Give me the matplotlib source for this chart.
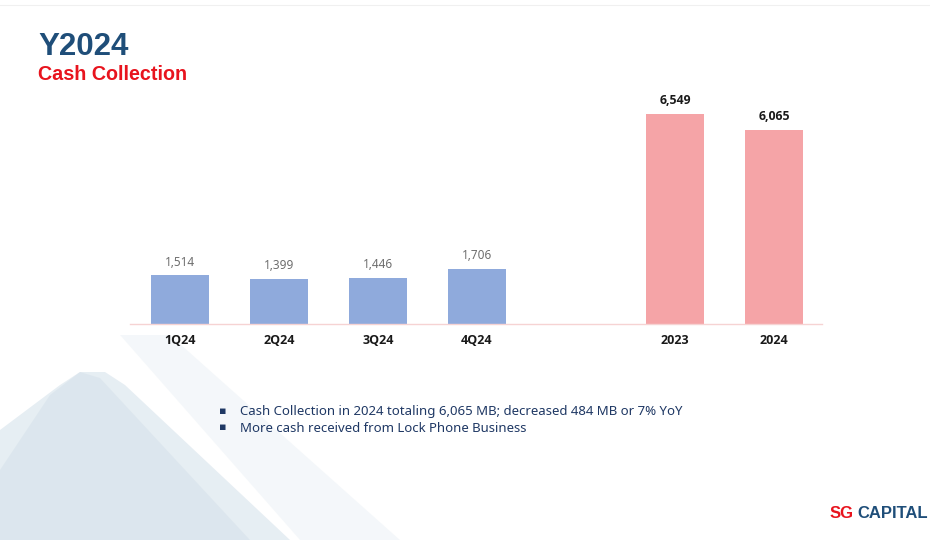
import matplotlib.pyplot as plt
from matplotlib.patches import Polygon

# data
categories = ["1Q24", "2Q24", "3Q24", "4Q24", "2023", "2024"]
positions = [0, 1, 2, 3, 5, 6]
values = [1514, 1399, 1446, 1706, 6549, 6065]
is_annual = [False, False, False, False, True, True]
bullets = [
    "Cash Collection in 2024 totaling 6,065 MB; decreased 484 MB or 7% YoY",
    "More cash received from Lock Phone Business",
]

BLUE = "#8FAADC"
PINK = "#F5A4A7"
NAVY = "#1F3864"
TITLE_BLUE = "#1F4E79"
RED = "#E8141E"
BOLD_FONT = ["Open Sans", "DejaVu Sans"]

plt.rcParams['font.family'] = ['Noto Sans', 'DejaVu Sans']

fig = plt.figure(figsize=(9.3, 5.4), dpi=100)

# decorative background shapes (bottom left)
bg = fig.add_axes([0, 0, 1, 1], zorder=0)
bg.set_xlim(0, 930)
bg.set_ylim(540, 0)
bg.axis("off")
bg.add_patch(Polygon([(0, 430), (0, 540), (290, 540), (125, 385), (105, 372),
                      (80, 372), (60, 385)], closed=True,
                     facecolor="#D3E0EA", edgecolor="none", alpha=0.55))
bg.add_patch(Polygon([(0, 470), (0, 540), (250, 540), (100, 378), (80, 372),
                      (50, 395)], closed=True,
                     facecolor="#CCD9E5", edgecolor="none", alpha=0.35))
bg.add_patch(Polygon([(120, 335), (170, 335), (400, 540), (300, 540)], closed=True,
                     facecolor="#EEF3F7", edgecolor="none", alpha=0.6))
bg.plot([0, 930], [5, 5], color="#F0F0F0", lw=0.8)

ax = fig.add_axes([0.1398, 0.4, 0.744, 0.4157])
colors = [PINK if a else BLUE for a in is_annual]
ax.bar(positions, values, width=0.59, color=colors, zorder=2)

ax.set_xlim(-0.505, 6.485)
ax.set_ylim(0, 7000)
for s in ["top", "right", "left"]:
    ax.spines[s].set_visible(False)
ax.spines["bottom"].set_color("#F6D3D3")
ax.spines["bottom"].set_linewidth(1.0)
ax.set_yticks([])
ax.set_xticks(positions)
ax.set_xticklabels(categories, fontsize=9, fontweight="bold", color="#1A1A1A",
                   family=BOLD_FONT)
ax.tick_params(axis="x", length=0, pad=7)
ax.patch.set_alpha(0)

for p, v, a in zip(positions, values, is_annual):
    if a:
        ax.annotate(f"{v:,}", (p, v), xytext=(0, 5), textcoords="offset points",
                    ha="center", va="bottom", fontsize=8.8, fontweight="bold",
                    color="#1A1A1A", family=BOLD_FONT)
    else:
        ax.annotate(f"{v:,}", (p, v), xytext=(0, 5), textcoords="offset points",
                    ha="center", va="bottom", fontsize=8.5, color="#6E6E6E")

# titles
fig.text(38 / 930, 1 - 47 / 540, "Y2024", fontsize=22.5, fontweight="bold",
         color=TITLE_BLUE, va="center", family="Liberation Sans")
fig.text(38 / 930, 1 - 75 / 540, "Cash Collection", fontsize=14.2, fontweight="bold",
         color=RED, va="center", family="Liberation Sans")

# bullets
for i, b in enumerate(bullets):
    y = 1 - (411 + i * 17) / 540
    fig.text(219 / 930, y, "\u25aa", fontsize=8, color=NAVY, va="center")
    fig.text(240 / 930, y, b, fontsize=9.5, color=NAVY, va="center")

# logo
fig.text(830 / 930, 1 - 513 / 540, "SG", fontsize=12, fontweight="bold",
         color=RED, va="center", family="Liberation Sans")
fig.text(857 / 930, 1 - 513 / 540, "CAPITAL", fontsize=12, fontweight="bold",
         color=TITLE_BLUE, va="center", family="Liberation Sans")

fig.savefig("out.png", dpi=100)
